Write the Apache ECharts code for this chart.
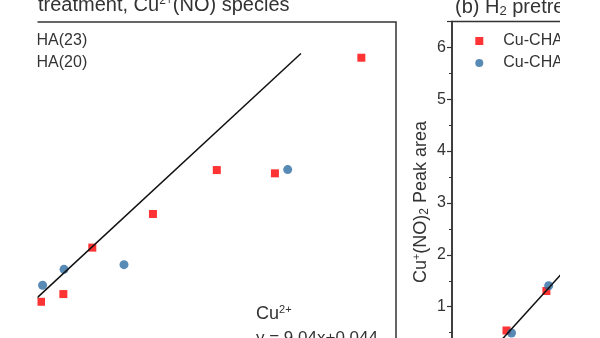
<!DOCTYPE html>
<html>
<head>
<meta charset="utf-8">
<script src="https://cdn.jsdelivr.net/npm/echarts@6/dist/echarts.min.js"></script>
<style>
  html, body { margin: 0; padding: 0; background: #fff; }
  #chart { width: 600px; height: 338px; }
</style>
</head>
<body>
<div id="chart"></div>
<script>
// Sample names (legend order: red squares, blue circles)
const sampleNames = ['Cu-CHA(23)', 'Cu-CHA(20)'];

// Panel (a): Cu2+(NO) peak area vs Cu content
const aRedX  = [0.0443, 0.0541, 0.0668, 0.0934, 0.1214, 0.1469, 0.1848];
const aRedY  = [0.412, 0.445, 0.644, 0.788, 0.976, 0.962, 1.457];
const aBlueX = [0.0450, 0.0544, 0.0807, 0.1525];
const aBlueY = [0.483, 0.551, 0.571, 0.978];
const fitA = { slope: 9.04, intercept: 0.044, from: 0.03, to: 0.1583 };

// Panel (b): Cu+(NO)2 peak area vs Cu content
const bRedX  = [0.0239, 0.0414];
const bRedY  = [0.542, 1.303];
const bBlueX = [0.0261, 0.0424];
const bBlueY = [0.493, 1.405];
const fitB = { slope: 48.45, intercept: -0.693, from: 0.018, to: 0.06 };

// Axis ticks of panel (b)
const bTickMin = 0, bTickMax = 6.5, bTickStep = 1;

const RED = '#ff0000';
const BLUE = '#2e6da4';
const INK = '#333333';
const FONT = 'Liberation Sans, Arial, sans-serif';

const pairs = (xs, ys) => xs.map((x, i) => [x, ys[i]]);
const fitLine = f => [[f.from, f.slope * f.from + f.intercept], [f.to, f.slope * f.to + f.intercept]];

const chart = echarts.init(document.getElementById('chart'), null, { renderer: 'canvas' });

const legendBase = {
  orient: 'vertical',
  top: 33,
  padding: 0,
  itemWidth: 8,
  itemHeight: 8,
  itemGap: 6,
  selectedMode: false,
  textStyle: { fontSize: 16, fontFamily: FONT, color: INK, padding: [0, 0, 0, 15] },
  data: [
    { name: sampleNames[0], icon: 'rect' },
    { name: sampleNames[1], icon: 'circle' }
  ]
};

const scatterBase = { type: 'scatter', z: 2, emphasis: { disabled: true } };
const lineBase = {
  type: 'line', showSymbol: false, symbol: 'none', z: 3, silent: true,
  lineStyle: { color: '#111', width: 1.5 }, emphasis: { disabled: true }
};

const gridBase = { show: true, borderColor: INK, borderWidth: 1.5, backgroundColor: 'transparent',
  containLabel: false, outerBoundsMode: 'none' };

const option = {
  animation: false,
  backgroundColor: '#fff',
  grid: [
    Object.assign({ left: -60, top: 22, width: 456, height: 376 }, gridBase),
    Object.assign({ left: 452, top: 21.4, width: 456, height: 337.2 }, gridBase)
  ],
  xAxis: [
    { type: 'value', gridIndex: 0, min: 0, max: 0.2, show: false },
    { type: 'value', gridIndex: 1, min: 0, max: 0.2, show: false }
  ],
  yAxis: [
    { type: 'value', gridIndex: 0, min: 0, max: 1.61, show: false },
    {
      type: 'value', gridIndex: 1, min: bTickMin, max: bTickMax, interval: bTickStep,
      axisLine: { show: true, lineStyle: { color: INK, width: 1.5 } },
      axisTick: { show: true, length: 5, lineStyle: { color: INK, width: 1.2 } },
      minorTick: { show: true, splitNumber: 2, length: 3, lineStyle: { color: INK, width: 1 } },
      axisLabel: { fontSize: 16, fontFamily: FONT, color: INK, margin: 6, showMaxLabel: false,
        formatter: v => (Number.isInteger(v) ? String(v) : '') },
      splitLine: { show: false }
    }
  ],
  legend: [
    Object.assign({ left: -28.8 }, legendBase),
    Object.assign({ left: 475.3 }, legendBase)
  ],
  series: [
    Object.assign({ name: sampleNames[0], xAxisIndex: 0, yAxisIndex: 0, symbol: 'rect', symbolSize: 8,
      itemStyle: { color: RED }, data: pairs(aRedX, aRedY) }, scatterBase),
    Object.assign({ name: sampleNames[1], xAxisIndex: 0, yAxisIndex: 0, symbol: 'circle', symbolSize: 9,
      itemStyle: { color: BLUE }, data: pairs(aBlueX, aBlueY) }, scatterBase),
    Object.assign({ name: 'fit-a', xAxisIndex: 0, yAxisIndex: 0, data: fitLine(fitA) }, lineBase),
    Object.assign({ name: sampleNames[0], xAxisIndex: 1, yAxisIndex: 1, symbol: 'rect', symbolSize: 8,
      itemStyle: { color: RED }, data: pairs(bRedX, bRedY) }, scatterBase),
    Object.assign({ name: sampleNames[1], xAxisIndex: 1, yAxisIndex: 1, symbol: 'circle', symbolSize: 9,
      itemStyle: { color: BLUE }, data: pairs(bBlueX, bBlueY) }, scatterBase),
    Object.assign({ name: 'fit-b', xAxisIndex: 1, yAxisIndex: 1, data: fitLine(fitB) }, lineBase)
  ],
  graphic: [
    // panel titles
    { type: 'text', x: 38, y: 5.4, z: 10, style: {
        text: 'treatment, Cu{sup|2+}(NO) species', fontSize: 20, fontFamily: FONT, fill: INK,
        align: 'left', verticalAlign: 'middle', lineHeight: 22,
        rich: { sup: { fontSize: 12, fontFamily: FONT, fill: INK, verticalAlign: 'top', lineHeight: 12 } } } },
    { type: 'text', x: 455, y: 7.4, z: 10, style: {
        text: '(b) H{sub|2} pretreatment, Cu{sup|+}(NO){sub|2} species', fontSize: 20, fontFamily: FONT, fill: INK,
        align: 'left', verticalAlign: 'middle', lineHeight: 22,
        rich: {
          sub: { fontSize: 13, fontFamily: FONT, fill: INK, verticalAlign: 'bottom', lineHeight: 13 },
          sup: { fontSize: 12, fontFamily: FONT, fill: INK, verticalAlign: 'top', lineHeight: 12 }
        } } },
    // y-axis title of panel (b)
    { type: 'text', x: 421, y: 202, rotation: Math.PI / 2, z: 10, style: {
        text: 'Cu{sup|+}(NO){sub|2} Peak area', fontSize: 18, fontFamily: FONT, fill: INK,
        align: 'center', verticalAlign: 'middle', lineHeight: 20,
        rich: {
          sub: { fontSize: 12, fontFamily: FONT, fill: INK, verticalAlign: 'bottom', lineHeight: 12 },
          sup: { fontSize: 11, fontFamily: FONT, fill: INK, verticalAlign: 'top', lineHeight: 11 }
        } } },
    // fit annotation of panel (a)
    { type: 'text', x: 256, y: 314, z: 10, style: {
        text: 'Cu{sup|2+}', fontSize: 18, fontFamily: FONT, fill: INK,
        align: 'left', verticalAlign: 'middle', lineHeight: 20,
        rich: { sup: { fontSize: 11, fontFamily: FONT, fill: INK, verticalAlign: 'top', lineHeight: 11 } } } },
    { type: 'text', x: 256, y: 338.4, z: 10, style: {
        text: 'y = ' + fitA.slope.toFixed(2) + 'x+' + fitA.intercept.toFixed(3),
        fontSize: 17, fontFamily: FONT, fill: INK, align: 'left', verticalAlign: 'middle' } },
    // page margins outside the figure area
    { type: 'rect', x: 0, y: 0, z: 100, shape: { width: 37.5, height: 338 }, style: { fill: '#fff' } },
    { type: 'rect', x: 560, y: 0, z: 100, shape: { width: 40, height: 338 }, style: { fill: '#fff' } }
  ]
};

chart.setOption(option);
</script>
</body>
</html>
